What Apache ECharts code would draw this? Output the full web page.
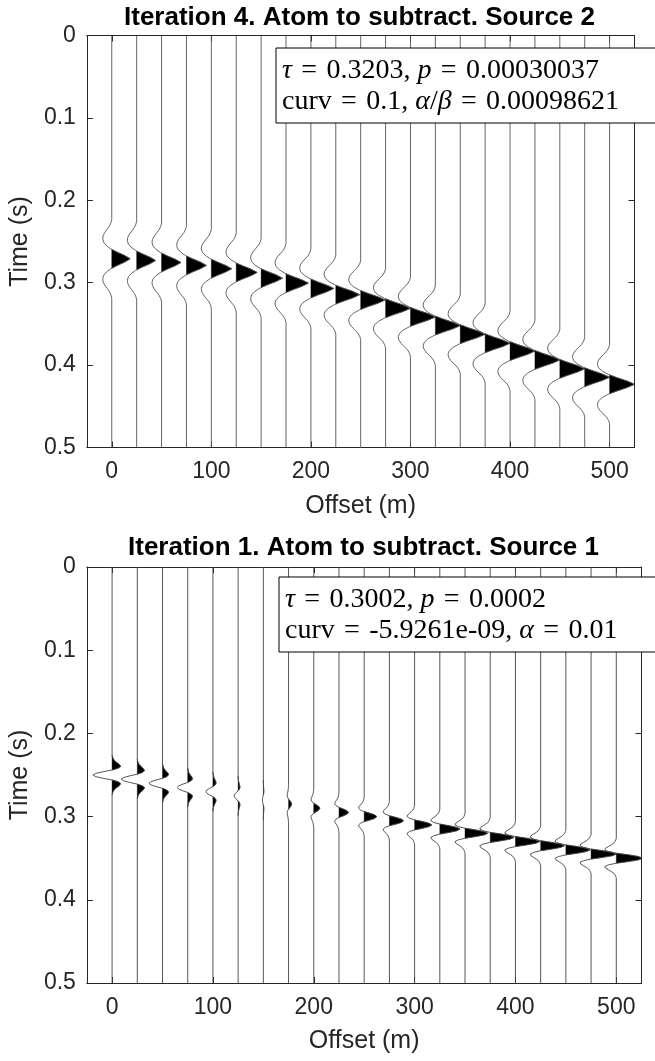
<!DOCTYPE html>
<html><head><meta charset="utf-8">
<script src="https://cdn.jsdelivr.net/npm/echarts@6/dist/echarts.min.js"></script>
<style>html,body{margin:0;padding:0;background:#fff}#c{width:655px;height:1061px}</style>
</head><body><div id="c"></div>
<script>
// ---- data ----
const offsets = [0,25,50,75,100,125,150,175,200,225,250,275,300,325,350,375,400,425,450,475,500];
// panel 1 (Iteration 4, Source 2): peak time (s) and peak amplitude (m of offset) per trace
const topTimes = [0.271,0.273,0.2755,0.279,0.283,0.2875,0.2945,0.3005,0.307,0.3145,0.321,0.331,0.3415,0.352,0.3625,0.3735,0.383,0.3937,0.4045,0.4147,0.4233];
const topAmps  = [18.5,19,19.5,20,20.5,21,21.5,22.5,23,24,24.5,25,25,25,25,25,25,25,25,25,25];
// panel 2 (Iteration 1, Source 1)
const botTimes = [0.250,0.255,0.260,0.265,0.270,0.275,0.280,0.285,0.290,0.295,0.300,0.305,0.310,0.315,0.320,0.325,0.330,0.335,0.340,0.345,0.350];
const botAmps  = [-19,-16,-13.5,-10.5,-7,-4,-1,3,6,9.5,12.5,14,17,20,22.5,23.5,24,23.5,24,25,26];
// wavelet shapes (normalised to the peak), sampled every dt seconds around the peak
const topWavelet = [0,-0.04,-0.12,-0.25,-0.38,-0.47,-0.49,-0.44,-0.29,-0.05,0.3,0.7,1,0.7,0.3,-0.05,-0.29,-0.44,-0.49,-0.47,-0.38,-0.25,-0.12,-0.04,0];
const topDt = 0.004;
const botWavelet = [0,-0.02,-0.05,-0.1,-0.19,-0.3,-0.41,-0.44,-0.3,0,0.46,0.84,1,0.84,0.46,0,-0.3,-0.44,-0.41,-0.3,-0.19,-0.1,-0.05,-0.02,0];
const botDt = 0.002;
const xTicks = [0,100,200,300,400,500];
const timeMin = 0, timeMax = 0.5, timeStep = 0.1;
const titles = ['Iteration 4. Atom to subtract. Source 2','Iteration 1. Atom to subtract. Source 1'];
const SP = '\u2004';
const boxTop = ['{i|τ}'+SP+'='+SP+'0.3203, {i|p}'+SP+'='+SP+'0.00030037', 'curv'+SP+'='+SP+'0.1, {i|α}/{i|β}'+SP+'='+SP+'0.00098621'];
const boxBot = ['{i|τ}'+SP+'='+SP+'0.3002, {i|p}'+SP+'='+SP+'0.0002', 'curv'+SP+'='+SP+'-5.9261e-09, {i|α}'+SP+'='+SP+'0.01'];

// ---- drawing ----
const chart = echarts.init(document.getElementById('c'), null, {renderer:'canvas'});
const AX = '#262626';
const SANS = 'Liberation Sans, Arial, Helvetica, sans-serif';
const SERIF = 'Liberation Serif, Times New Roman, serif';
const TICK_FS = 23, NAME_FS = 25, TITLE_FS = 26, BOX_FS = 28;

function makeRenderer(times, amps, wav, dt, lineColor) {
  const half = (wav.length - 1) / 2;
  return function (params, api) {
    const i = api.value(0);
    const off = offsets[i], t0 = times[i], a = amps[i];
    const cs = params.coordSys;
    const samples = [];
    const pts = [api.coord([off, timeMin])];
    for (let k = 0; k < wav.length; k++) {
      const t = t0 + (k - half) * dt;
      const v = a * wav[k];
      samples.push([t, v]);
      pts.push(api.coord([off + v, t]));
    }
    pts.push(api.coord([off, timeMax]));
    const polys = [];
    let cur = null;
    for (let k = 0; k < samples.length; k++) {
      const t = samples[k][0], v = samples[k][1];
      if (v > 0) {
        if (!cur) {
          let tc = t;
          if (k > 0) { const tp = samples[k-1][0], vp = samples[k-1][1]; tc = tp + (t - tp) * (-vp) / (v - vp); }
          cur = [api.coord([off, tc])];
        }
        cur.push(api.coord([off + v, t]));
      } else if (cur) {
        const tp = samples[k-1][0], vp = samples[k-1][1];
        const tc = tp + (t - tp) * vp / (vp - v);
        cur.push(api.coord([off, tc]));
        polys.push(cur); cur = null;
      }
    }
    if (cur) { cur.push(api.coord([off, samples[samples.length-1][0]])); polys.push(cur); }
    const children = polys.map(p => ({type:'polygon', shape:{points:p}, style:{fill:'#000', stroke:'#000', lineWidth:0.4}}));
    children.push({type:'polyline', shape:{points:pts}, style:{stroke:lineColor, lineWidth:0.9, fill:null}});
    return {type:'group', children, clipPath:{type:'rect', shape:{x:cs.x, y:cs.y, width:cs.width, height:cs.height}}};
  };
}

const grids = [
  {left:84.5, top:35.5, width:550, height:412},
  {left:85.5, top:567, width:556, height:416}
];

function xAxes(gi) {
  const base = {gridIndex:gi, type:'value', min:-25, max:525,
    axisLine:{show:true, onZero:false, lineStyle:{color:AX, width:1}},
    axisTick:{show:true, inside:true, length:6, customValues:xTicks, lineStyle:{color:AX}},
    splitLine:{show:false}};
  return [
    Object.assign({}, base, {position:'bottom', name:'Offset (m)', nameLocation:'middle', nameGap:46,
      nameTextStyle:{fontFamily:SANS, fontSize:NAME_FS, color:AX},
      axisLabel:{show:true, customValues:xTicks, margin:13, fontFamily:SANS, fontSize:TICK_FS, color:AX}}),
    Object.assign({}, base, {position:'top', axisLabel:{show:false}})
  ];
}
function yAxes(gi) {
  const base = {gridIndex:gi, type:'value', inverse:true, min:timeMin, max:timeMax, interval:timeStep,
    axisLine:{show:true, onZero:false, lineStyle:{color:AX, width:1}},
    axisTick:{show:true, inside:true, length:6, lineStyle:{color:AX}},
    splitLine:{show:false}};
  return [
    Object.assign({}, base, {position:'left', name:'Time (s)', nameLocation:'middle', nameGap:48, nameRotate:90,
      nameTextStyle:{fontFamily:SANS, fontSize:NAME_FS, color:AX},
      axisLabel:{show:true, margin:11, fontFamily:SANS, fontSize:TICK_FS, color:AX,
        formatter: v => String(Math.round(v*10)/10)}}),
    Object.assign({}, base, {position:'right', axisLabel:{show:false}})
  ];
}

function boxGraphic(left, top, lines) {
  return [
    {type:'rect', z:100, shape:{x:left, y:top, width:700-left, height:75},
      style:{fill:'#fff', stroke:'#000', lineWidth:1}},
    {type:'text', z:101, x:left+6, y:top+7, style:{
      text: lines.join('\n'), fontFamily:SERIF, fontSize:BOX_FS, lineHeight:31, fill:'#000', verticalAlign:'top',
      rich:{i:{fontFamily:SERIF, fontStyle:'italic', fontSize:BOX_FS, lineHeight:31}}
    }}
  ];
}

const option = {
  animation:false,
  backgroundColor:'#fff',
  grid: grids,
  xAxis: [...xAxes(0), ...xAxes(1)],
  yAxis: [...yAxes(0), ...yAxes(1)],
  series: [
    {type:'custom', xAxisIndex:0, yAxisIndex:0, clip:true,
      renderItem: makeRenderer(topTimes, topAmps, topWavelet, topDt, '#555'),
      data: offsets.map((o,i)=>[i])},
    {type:'custom', xAxisIndex:2, yAxisIndex:2, clip:true,
      renderItem: makeRenderer(botTimes, botAmps, botWavelet, botDt, '#444'),
      data: offsets.map((o,i)=>[i])}
  ],
  graphic: [
    {type:'text', z:100, x:grids[0].left+grids[0].width/2, y:18, style:{text:titles[0], fontFamily:SANS, fontWeight:'bold', fontSize:TITLE_FS, fill:'#000', align:'center', verticalAlign:'middle'}},
    {type:'text', z:100, x:grids[1].left+grids[1].width/2, y:548, style:{text:titles[1], fontFamily:SANS, fontWeight:'bold', fontSize:TITLE_FS, fill:'#000', align:'center', verticalAlign:'middle'}},
    ...boxGraphic(276, 48, boxTop),
    ...boxGraphic(279, 577, boxBot)
  ]
};
chart.setOption(option);
</script></body></html>
